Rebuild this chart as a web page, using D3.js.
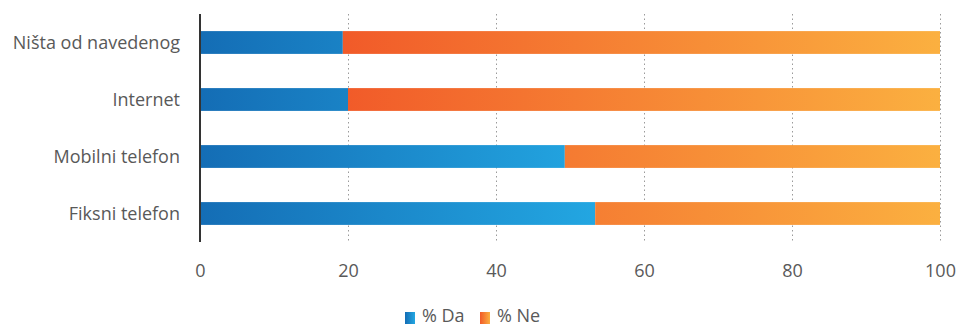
<!DOCTYPE html>
<html><head><meta charset="utf-8">
<script src="https://cdn.jsdelivr.net/npm/d3@7"></script>
<style>body{margin:0;background:#fff}svg{display:block}text{font-family:"Open Sans",sans-serif}</style>
</head><body><svg id="c" width="960" height="326"></svg>
<script>
const categories = ["Ništa od navedenog","Internet","Mobilni telefon","Fiksni telefon"];
const seriesNames = ["% Da","% Ne"];
const da = [19.3, 20.0, 49.3, 53.4];
const ne = [80.7, 80.0, 50.7, 46.6];
const ticks = [0,20,40,60,80,100];

const svg = d3.select("#c");
const x = d3.scaleLinear().domain([0,100]).range([200,940]);
const y = d3.scaleBand().domain(categories).range([14,242]).paddingInner(0.6).paddingOuter(0.3);

const defs = svg.append("defs");
const gB = defs.append("linearGradient").attr("id","gB").attr("gradientUnits","userSpaceOnUse")
  .attr("x1",x(0)).attr("x2",x(54)).attr("y1",0).attr("y2",0);
gB.append("stop").attr("offset",0).attr("stop-color","#146db5");
gB.append("stop").attr("offset",1).attr("stop-color","#23a7e2");
const gO = defs.append("linearGradient").attr("id","gO").attr("gradientUnits","userSpaceOnUse")
  .attr("x1",x(19)).attr("x2",x(100)).attr("y1",0).attr("y2",0);
gO.append("stop").attr("offset",0).attr("stop-color","#f15a29");
gO.append("stop").attr("offset",1).attr("stop-color","#fbb040");
const lB = defs.append("linearGradient").attr("id","lB");
lB.append("stop").attr("offset",0).attr("stop-color","#146db5");
lB.append("stop").attr("offset",1).attr("stop-color","#23a7e2");
const lO = defs.append("linearGradient").attr("id","lO");
lO.append("stop").attr("offset",0).attr("stop-color","#f15a29");
lO.append("stop").attr("offset",1).attr("stop-color","#fbb040");

// gridlines
svg.append("g").selectAll("line").data(ticks.slice(1)).join("line")
  .attr("x1",d=>x(d)+0.5).attr("x2",d=>x(d)+0.5).attr("y1",14).attr("y2",242)
  .attr("stroke","#9a9a9a").attr("stroke-width",1).attr("stroke-dasharray","1.5,3");

const data = categories.map((c,i)=>({c, da:da[i], ne:ne[i]}));
const stack = d3.stack().keys(["da","ne"])(data);
const fills = ["url(#gB)","url(#gO)"];
svg.append("g").selectAll("g").data(stack).join("g").attr("fill",(d,i)=>fills[i])
  .selectAll("rect").data(d=>d).join("rect")
  .attr("x",d=>x(d[0])).attr("width",d=>x(d[1])-x(d[0]))
  .attr("y",d=>y(d.data.c)).attr("height",y.bandwidth());

// axis line
svg.append("line").attr("x1",200).attr("x2",200).attr("y1",14).attr("y2",242)
  .attr("stroke","#333").attr("stroke-width",2);

// category labels
svg.append("g").selectAll("text").data(categories).join("text")
  .attr("x",180).attr("y",d=>y(d)+y.bandwidth()/2).attr("dy","0.36em")
  .attr("text-anchor","end").attr("fill","#595959").attr("font-size",18).text(d=>d);

// x tick labels
const xa = svg.append("g").attr("transform","translate(0,242)")
  .call(d3.axisBottom(x).tickValues(ticks).tickSize(0).tickPadding(22).tickFormat(d3.format("d")));
xa.select(".domain").remove();
xa.selectAll("text").attr("fill","#595959").attr("font-size",18).style("font-family","'Open Sans',sans-serif");

// legend
const leg = svg.append("g");
const lx = [405, 480];
const lf = ["url(#lB)","url(#lO)"];
seriesNames.forEach((n,i)=>{
  leg.append("rect").attr("x",lx[i]).attr("y",312).attr("width",10).attr("height",12).attr("fill",lf[i]);
  leg.append("text").attr("x",lx[i]+17).attr("y",322).attr("fill","#595959")
    .attr("font-size",18).text(n);
});
</script></body></html>
